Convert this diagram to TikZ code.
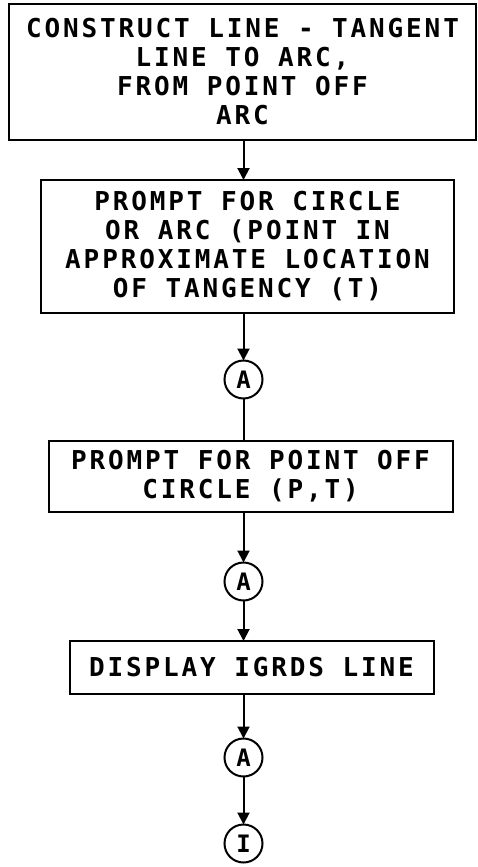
\documentclass[tikz,border=0pt]{standalone}
\usepackage{fontspec}
\usetikzlibrary{positioning, arrows.meta}
\newfontfamily\plotfont[LetterSpace=11]{DejaVu Sans Mono Bold}
\tikzset{
  stepbox/.style={draw, line width=2pt, outer sep=0pt, align=center, inner sep=0pt,
                  font=\plotfont\fontsize{26}{29}\selectfont},
  connector/.style={circle, draw, line width=2pt, outer sep=0pt, minimum size=38pt,
                    inner sep=0pt, font=\plotfont\fontsize{24}{24}\selectfont},
  flow/.style={-{Triangle[length=12pt, width=12pt]}, line width=2pt},
  link/.style={line width=2pt},
}

\begin{document}
\begin{tikzpicture}[x=1pt, y=1pt]
  \useasboundingbox (0,0) rectangle (477,-867);

  \node[stepbox, minimum width=467pt, minimum height=136pt] (construct) at (242.5,-72)
    {CONSTRUCT LINE - TANGENT\\LINE TO ARC,\\FROM POINT OFF\\ARC};
  \node[stepbox, minimum width=413pt, minimum height=133pt,
        below=40pt of construct, xshift=5pt] (pickarc)
    {PROMPT FOR CIRCLE\\OR ARC (POINT IN\\APPROXIMATE LOCATION\\OF TANGENCY (T)};
  \node[connector, below=47.5pt of pickarc, xshift=-4pt] (conA) {A};
  \node[stepbox, minimum width=404pt, minimum height=71pt,
        below=42.5pt of conA, xshift=7pt] (pickpoint)
    {PROMPT FOR POINT OFF\\CIRCLE (P,T)};
  \node[connector, below=50.5pt of pickpoint, xshift=-7pt] (conB) {A};
  \node[stepbox, minimum width=364pt, minimum height=53pt,
        below=40.5pt of conB, xshift=8pt] (display) {DISPLAY IGRDS LINE};
  \node[connector, below=44.5pt of display, xshift=-8pt] (conC) {A};
  \node[connector, below=48pt of conC] (exit) {I};

  % connectors run straight down the centre column
  \draw[flow] (construct.south -| conA) -- (pickarc.north -| conA);
  \draw[flow] (pickarc.south -| conA) -- (conA);
  \draw[link] (conA) -- (pickpoint.north -| conA);
  \draw[flow] (pickpoint.south -| conB) -- (conB);
  \draw[flow] (conB) -- (display.north -| conB);
  \draw[flow] (display.south -| conC) -- (conC);
  \draw[flow] (conC) -- (exit);
\end{tikzpicture}
\end{document}
